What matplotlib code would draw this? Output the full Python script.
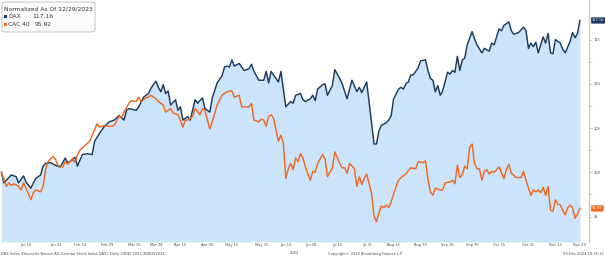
import numpy as np
import pandas as pd
import matplotlib
matplotlib.use("Agg")
import matplotlib.pyplot as plt
from matplotlib.patches import FancyBboxPatch, Rectangle

# trading sessions (both markets closed on these days)
start, end = "2023-12-29", "2024-11-29"
holidays = ["2024-01-01", "2024-03-29", "2024-04-01", "2024-05-01"]

tick_dates = ["2024-01-15", "2024-01-31", "2024-02-14", "2024-02-29", "2024-03-15",
              "2024-03-28", "2024-04-15", "2024-04-30", "2024-05-15", "2024-05-31",
              "2024-06-14", "2024-06-28", "2024-07-15", "2024-07-31", "2024-08-15",
              "2024-08-30", "2024-09-16", "2024-09-30", "2024-10-15", "2024-10-31",
              "2024-11-15", "2024-11-29"]

# session number (0 = 29 Dec 2023) and normalized level
dax_day = [0, 1, 2, 4, 6, 7, 9, 10, 12, 13,
           14, 16, 17, 18, 20, 22, 24, 26, 27, 29,
           30, 31, 33, 35, 37, 38, 40, 42, 44, 46,
           48, 50, 51, 52, 55, 56, 58, 60, 61, 63,
           64, 65, 66, 67, 68, 69, 71, 72, 73, 74,
           76, 77, 79, 80, 82, 83, 85, 86, 88, 90,
           91, 92, 93, 94, 95, 97, 99, 101, 102, 103,
           105, 107, 108, 109, 110, 113, 114, 116, 118, 119,
           120, 122, 123, 124, 126, 127, 128, 129, 131, 132,
           133, 135, 136, 138, 139, 141, 143, 145, 146, 147,
           148, 149, 150, 151, 152, 153, 154, 155, 157, 158,
           159, 160, 162, 163, 164, 165, 166, 167, 168, 170,
           171, 173, 174, 175, 176, 177, 178, 179, 180, 182,
           183, 184, 185, 186, 187, 188, 189, 190, 192, 193,
           194, 196, 197, 199, 200, 201, 202, 203, 204, 205,
           207, 208, 209, 211, 213, 214, 215, 216, 217, 218,
           219, 221, 222, 223, 224, 225, 226, 227, 228, 229,
           230, 232, 233, 234, 235, 236]
dax_val = [100.0, 98.8, 99.1, 99.7, 99.5, 98.8, 99.6, 98.9, 98.2, 98.8,
           99.3, 99.7, 100.7, 101.0, 101.1, 100.8, 100.6, 101.6, 101.1, 101.4,
           101.7, 100.7, 102.0, 102.1, 102.0, 103.5, 104.4, 105.2, 105.7, 105.9,
           106.4, 105.9, 107.0, 107.2, 107.0, 107.4, 108.5, 108.9, 109.5, 110.3,
           109.6, 109.1, 109.9, 108.9, 109.2, 107.6, 108.2, 107.0, 107.4, 105.9,
           106.3, 105.9, 108.2, 107.8, 108.4, 107.2, 106.8, 108.4, 110.1, 110.9,
           111.9, 112.0, 111.9, 112.7, 112.0, 112.3, 111.5, 111.7, 112.2, 111.4,
           110.4, 110.4, 111.4, 110.1, 111.4, 110.2, 111.4, 107.4, 108.0, 107.8,
           108.7, 108.9, 108.2, 108.0, 108.3, 108.7, 108.1, 109.4, 109.9, 110.0,
           108.7, 109.8, 111.6, 110.6, 110.0, 108.3, 110.4, 109.1, 109.6, 109.0,
           109.6, 110.2, 107.9, 105.5, 103.2, 103.2, 104.7, 105.3, 105.6, 105.9,
           106.4, 108.3, 109.4, 109.6, 109.4, 110.0, 110.2, 111.0, 111.0, 111.8,
           112.6, 112.7, 111.5, 110.6, 110.4, 109.1, 109.8, 108.7, 109.2, 111.3,
           111.1, 111.5, 111.3, 113.1, 111.5, 112.7, 112.9, 114.4, 115.9, 115.1,
           114.4, 113.5, 114.0, 113.7, 114.6, 114.4, 115.3, 116.2, 116.0, 116.6,
           117.0, 116.0, 115.6, 115.8, 116.4, 116.0, 114.0, 114.6, 114.2, 114.7,
           113.5, 115.3, 114.6, 115.7, 113.5, 113.4, 115.0, 114.8, 114.6, 113.9,
           113.5, 114.8, 115.8, 115.2, 115.7, 117.16]

cac_day = [0, 2, 3, 4, 5, 7, 8, 9, 10, 12,
           13, 14, 16, 17, 18, 19, 21, 22, 23, 25,
           26, 27, 29, 30, 31, 32, 34, 36, 38, 39,
           40, 42, 43, 45, 46, 48, 49, 50, 52, 53,
           55, 56, 57, 59, 60, 61, 63, 64, 66, 67,
           69, 70, 72, 74, 75, 76, 78, 79, 81, 82,
           83, 85, 86, 88, 90, 92, 94, 95, 97, 98,
           101, 102, 103, 105, 106, 107, 108, 109, 110, 111,
           113, 114, 115, 116, 117, 118, 119, 120, 121, 122,
           123, 124, 126, 127, 128, 129, 131, 132, 133, 135,
           136, 138, 139, 140, 141, 142, 144, 145, 146, 147,
           148, 149, 151, 152, 153, 154, 155, 156, 157, 158,
           159, 161, 162, 163, 165, 166, 167, 169, 170, 172,
           173, 174, 175, 176, 177, 179, 180, 181, 183, 184,
           185, 186, 187, 188, 189, 190, 191, 192, 193, 194,
           195, 196, 197, 198, 199, 200, 201, 203, 205, 206,
           207, 208, 210, 212, 213, 214, 216, 217, 218, 219,
           220, 221, 222, 223, 224, 225, 226, 227, 228, 229,
           230, 231, 232, 233, 234, 235, 236]
cac_val = [100.0, 98.4, 98.8, 98.5, 98.7, 98.4, 98.0, 98.8, 98.2, 96.9,
           97.7, 98.0, 97.8, 98.4, 100.3, 101.2, 101.8, 101.5, 100.8, 100.6,
           101.2, 100.9, 101.6, 101.1, 102.0, 102.5, 103.0, 103.5, 104.8, 105.5,
           105.1, 105.3, 105.2, 105.2, 105.3, 106.3, 106.2, 106.8, 107.8, 108.1,
           108.0, 108.5, 108.0, 108.4, 108.5, 108.7, 108.3, 108.0, 107.6, 106.8,
           107.2, 106.7, 106.5, 105.1, 105.9, 105.9, 106.3, 107.2, 106.5, 107.2,
           107.0, 104.9, 105.7, 107.6, 108.7, 109.1, 109.2, 108.5, 108.7, 107.4,
           107.4, 107.8, 105.9, 105.7, 106.0, 105.9, 105.2, 106.3, 106.5, 106.1,
           103.5, 104.2, 103.3, 99.3, 100.4, 101.0, 100.3, 101.6, 101.2, 102.1,
           101.6, 100.6, 99.1, 100.1, 100.0, 101.0, 102.0, 101.5, 99.5, 100.5,
           102.3, 101.0, 100.5, 100.5, 99.9, 101.0, 100.4, 98.4, 99.5, 98.6,
           99.3, 99.8, 97.6, 95.0, 94.4, 95.4, 96.2, 96.0, 96.3, 96.0,
           96.7, 98.4, 99.1, 99.4, 99.8, 100.2, 100.5, 100.4, 101.2, 101.1,
           101.3, 99.2, 97.8, 97.4, 98.2, 98.0, 98.0, 98.8, 98.9, 99.1,
           98.7, 100.8, 99.4, 99.7, 100.7, 100.4, 102.8, 103.2, 101.0, 100.4,
           100.4, 99.1, 100.1, 100.3, 99.8, 100.1, 100.0, 100.6, 99.3, 100.3,
           100.9, 99.9, 99.4, 99.4, 100.1, 99.1, 97.4, 98.0, 97.8, 98.0,
           97.7, 98.3, 97.4, 98.4, 95.7, 95.6, 96.9, 96.4, 96.3, 95.7,
           95.2, 96.0, 96.3, 96.0, 94.8, 95.3, 95.92]

y_ticks = [95, 100, 105, 110, 115]

NAVY = "#1c3a5e"
ORANGE = "#f0691f"
FILL = "#cce4fb"
SPINE = "#eab98f"
GREY = "#4a4a4a"

sessions = pd.bdate_range(start, end).drop(pd.to_datetime(holidays))
tick_pos = sessions.get_indexer(pd.to_datetime(tick_dates))
tick_lab = [d.strftime("%b %d") for d in pd.to_datetime(tick_dates)]

fig = plt.figure(figsize=(6.05, 2.58), dpi=100)
ax = fig.add_axes([0.0, 0.062, 589 / 605, 0.938])

y_lo, y_hi = 92.12, 119.47
ax.fill_between(dax_day, dax_val, y_lo, color=FILL, lw=0, zorder=1)
ax.plot(dax_day, dax_val, color=NAVY, lw=1.05, zorder=3)
ax.plot(cac_day, cac_val, color=ORANGE, lw=1.05, zorder=4)

ax.set_xlim(-0.6, 239.7)
ax.set_ylim(y_lo, y_hi)

for s in ["left", "top", "bottom"]:
    ax.spines[s].set_visible(False)
ax.spines["right"].set_color(SPINE)
ax.spines["right"].set_linewidth(0.8)

ax.yaxis.tick_right()
ax.set_yticks(y_ticks)
ax.set_yticks([97.5, 102.5, 107.5, 112.5], minor=True)
ax.tick_params(axis="y", which="both", direction="out", length=2, width=0.5,
               color=SPINE, labelsize=2.6, labelcolor=GREY, pad=1.5)
ax.set_xticks(tick_pos)
ax.set_xticklabels(tick_lab)
ax.tick_params(axis="x", length=0, labelsize=2.6, labelcolor=GREY, pad=1.0)
ax.text(0.5, -0.036, "2024", transform=ax.transAxes, ha="center", va="top",
        fontsize=2.6, color=GREY)

# last-value tags on the right axis
for val, col in [(dax_val[-1], NAVY), (cac_val[-1], ORANGE)]:
    ax.annotate(f"{val:.2f}", xy=(1.0, val), xycoords=("axes fraction", "data"),
                xytext=(2.2, 0), textcoords="offset points", ha="left", va="center",
                fontsize=2.6, color="white", annotation_clip=False,
                bbox=dict(boxstyle="round,pad=0.25", fc=col, ec=col, lw=0.3))

# legend box
fig.patches.append(FancyBboxPatch((2 / 605, 1 - 32 / 258), 93 / 605, 30 / 258,
                                  boxstyle="round,pad=0,rounding_size=0.006",
                                  transform=fig.transFigure, fc="#fbfbfb",
                                  ec="#b9b9b9", lw=0.6, zorder=5))
fig.text(3.5 / 605, 1 - 8.5 / 258, "Normalized As Of 12/29/2023", fontsize=4.3,
         color="#333333", va="center", ha="left", zorder=6)
rows = [("DAX", dax_val[-1], NAVY, 16.5, 32), ("CAC 40", cac_val[-1], ORANGE, 24.5, 35)]
for name, val, col, ypx, xval in rows:
    fig.patches.append(Rectangle((4 / 605, 1 - (ypx + 1.6) / 258), 3.2 / 605, 3.2 / 258,
                                 transform=fig.transFigure, fc=col, ec="none", zorder=6))
    fig.text(8 / 605, 1 - ypx / 258, name, fontsize=4.3, color="#333333",
             va="center", ha="left", zorder=6)
    fig.text(xval / 605, 1 - ypx / 258, f"{val:.2f}", fontsize=4.3, color="#333333",
             va="center", ha="left", zorder=6)

# footer
fig.text(0.001, 1 - 254 / 258,
         "DAX Index (Deutsche Boerse AG German Stock Index DAX)  Daily 29DEC2023-30NOV2024",
         fontsize=2.6, color=GREY, ha="left", va="center")
fig.text(365 / 605, 1 - 254 / 258, "Copyright\u00a9 2024 Bloomberg Finance L.P.",
         fontsize=2.6, color=GREY, ha="center", va="center")
fig.text(0.998, 1 - 254 / 258, "09-Dec-2024 19:35:37", fontsize=2.6, color=GREY,
         ha="right", va="center")

fig.savefig("out.png", dpi=100)
